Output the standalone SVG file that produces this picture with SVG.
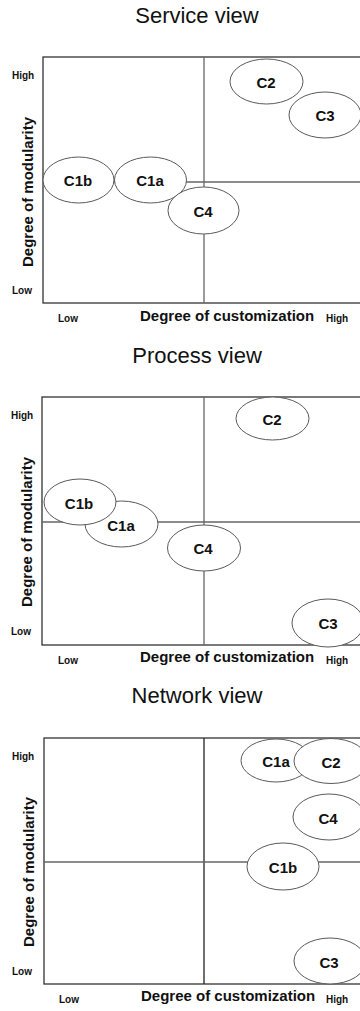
<svg xmlns="http://www.w3.org/2000/svg" width="360" height="1011" viewBox="0 0 360 1011">
  <style>
    text { font-family: "Liberation Sans", Arial, sans-serif; fill: #111; }
    .title { font-size: 22px; text-anchor: middle; }
    .axis { font-size: 15px; font-weight: bold; }
    .tick { font-size: 10px; font-weight: bold; }
    .lbl { font-size: 15px; font-weight: bold; text-anchor: middle; dominant-baseline: central; }
    .frame { fill: #fff; stroke: #333; stroke-width: 1.3; }
    .quad { stroke: #666; stroke-width: 1.3; fill: none; }
    .node ellipse { fill: #fff; stroke: #5a5a5a; stroke-width: 1; }
  </style>

  <rect width="360" height="1011" fill="#fff"/>

  <!-- Service view -->
  <g id="service-view">
    <text class="title" x="197" y="23">Service view</text>
    <rect class="frame" x="43" y="57" width="330" height="246"/>
    <g id="service-axes">
      <line class="quad" x1="204" y1="57" x2="204" y2="303"/>
      <line class="quad" x1="43" y1="182" x2="360" y2="182"/>
    </g>
    <text class="tick" x="12" y="79">High</text>
    <text class="tick" x="12" y="294">Low</text>
    <text class="axis" transform="translate(33,192) rotate(-90)" text-anchor="middle">Degree of modularity</text>
    <text class="tick" x="58" y="322">Low</text>
    <text class="axis" x="140" y="321">Degree of customization</text>
    <text class="tick" x="326" y="322">High</text>
    <g id="s-c2" class="node"><ellipse cx="266.5" cy="81.5" rx="36.5" ry="22.5"/><text class="lbl" x="266" y="82">C2</text></g>
    <g id="s-c3" class="node"><ellipse cx="325" cy="115" rx="36" ry="23"/><text class="lbl" x="325" y="115">C3</text></g>
    <g id="s-c1b" class="node"><ellipse cx="78.5" cy="180" rx="35.5" ry="23"/><text class="lbl" x="78" y="180">C1b</text></g>
    <g id="s-c1a" class="node"><ellipse cx="150.5" cy="180" rx="36" ry="23"/><text class="lbl" x="150" y="180">C1a</text></g>
    <g id="s-c4" class="node"><ellipse cx="203.5" cy="210.5" rx="35.5" ry="23.5"/><text class="lbl" x="203" y="211">C4</text></g>
  </g>

  <!-- Process view -->
  <g id="process-view">
    <text class="title" x="197" y="363">Process view</text>
    <rect class="frame" x="42" y="397" width="330" height="248"/>
    <g id="process-axes">
      <line class="quad" x1="204" y1="397" x2="204" y2="645"/>
      <line class="quad" x1="42" y1="522" x2="360" y2="522"/>
    </g>
    <text class="tick" x="11" y="419">High</text>
    <text class="tick" x="11" y="635">Low</text>
    <text class="axis" transform="translate(32,532) rotate(-90)" text-anchor="middle">Degree of modularity</text>
    <text class="tick" x="58" y="664">Low</text>
    <text class="axis" x="140" y="662">Degree of customization</text>
    <text class="tick" x="326" y="664">High</text>
    <g id="p-c2" class="node"><ellipse cx="272.5" cy="418.5" rx="36.5" ry="21.5"/><text class="lbl" x="272" y="419">C2</text></g>
    <g id="p-c1a" class="node"><ellipse cx="121.5" cy="524" rx="36.5" ry="23"/><text class="lbl" x="121" y="525">C1a</text></g>
    <g id="p-c1b" class="node"><ellipse cx="80" cy="502" rx="36" ry="23"/><text class="lbl" x="79" y="503">C1b</text></g>
    <g id="p-c4" class="node"><ellipse cx="204" cy="548" rx="36.5" ry="23"/><text class="lbl" x="203" y="548">C4</text></g>
    <g id="p-c3" class="node"><ellipse cx="328" cy="623" rx="36" ry="24"/><text class="lbl" x="328" y="623">C3</text></g>
  </g>

  <!-- Network view -->
  <g id="network-view">
    <text class="title" x="197" y="703">Network view</text>
    <rect class="frame" x="44" y="738" width="330" height="246"/>
    <g id="network-axes">
      <line class="quad" x1="204" y1="738" x2="204" y2="984" stroke="#222" style="stroke:#222"/>
      <line class="quad" x1="44" y1="862" x2="360" y2="862"/>
    </g>
    <text class="tick" x="12" y="760">High</text>
    <text class="tick" x="12" y="975">Low</text>
    <text class="axis" transform="translate(34,872) rotate(-90)" text-anchor="middle">Degree of modularity</text>
    <text class="tick" x="59" y="1003">Low</text>
    <text class="axis" x="141" y="1001">Degree of customization</text>
    <text class="tick" x="326" y="1003">High</text>
    <g id="n-c1a" class="node"><ellipse cx="276" cy="760.5" rx="35" ry="21.5"/><text class="lbl" x="276" y="761">C1a</text></g>
    <g id="n-c2" class="node"><ellipse cx="331" cy="761" rx="37" ry="22.5"/><text class="lbl" x="331" y="762">C2</text></g>
    <g id="n-c4" class="node"><ellipse cx="329" cy="817" rx="36" ry="23"/><text class="lbl" x="328" y="818">C4</text></g>
    <g id="n-c1b" class="node"><ellipse cx="283" cy="866.5" rx="36" ry="23.5"/><text class="lbl" x="283" y="867">C1b</text></g>
    <g id="n-c3" class="node"><ellipse cx="330" cy="961" rx="36" ry="23"/><text class="lbl" x="329" y="962">C3</text></g>
  </g>
</svg>
